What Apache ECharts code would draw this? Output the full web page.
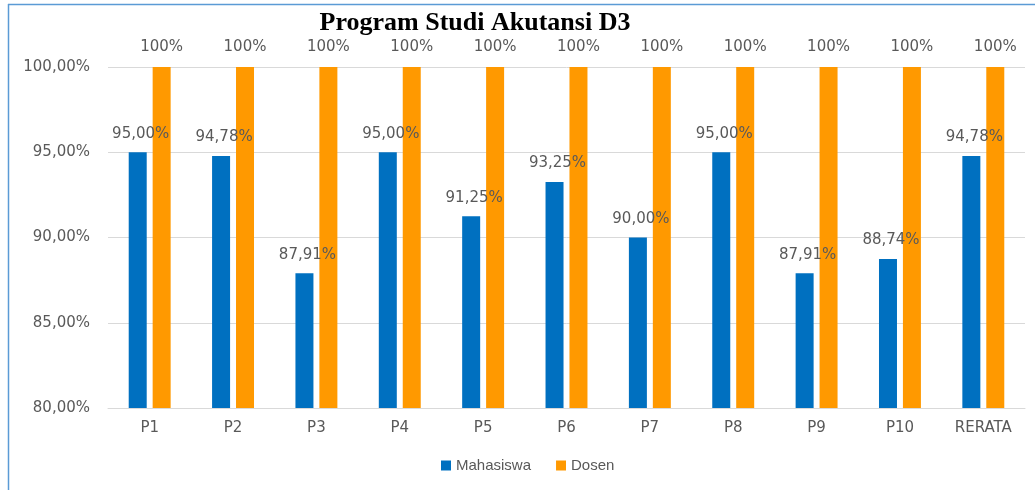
<!DOCTYPE html>
<html><head><meta charset="utf-8">
<script src="https://cdn.jsdelivr.net/npm/echarts@6/dist/echarts.min.js"></script>
<style>html,body{margin:0;padding:0;background:#fff}#c{width:1035px;height:490px}</style>
</head><body><div id="c"></div>
<script>
const categories = ['P1','P2','P3','P4','P5','P6','P7','P8','P9','P10','RERATA'];
const mahasiswa = [95.00, 94.78, 87.91, 95.00, 91.25, 93.25, 90.00, 95.00, 87.91, 88.74, 94.78];
const dosen = [100, 100, 100, 100, 100, 100, 100, 100, 100, 100, 100];
const yTicks = [80, 85, 90, 95, 100];

const fmt2 = v => v.toFixed(2).replace('.', ',') + '%';
const FONT = 'DejaVu Sans';
const chart = echarts.init(document.getElementById('c'));
chart.setOption({
  animation: false,
  backgroundColor: '#fff',
  title: {
    text: 'Program Studi Akutansi D3', left: 470, top: 5, textAlign: 'center',
    textStyle: { fontFamily: 'Liberation Serif', fontWeight: 'bold', fontSize: 26, color: '#000' }
  },
  legend: {
    bottom: 12, left: 436, itemWidth: 10, itemHeight: 10, itemGap: 25,
    icon: 'rect',
    textStyle: { color: '#595959', fontSize: 15, fontFamily: 'Liberation Sans' }
  },
  grid: { left: 108, right: 10, top: 67, bottom: 82 },
  xAxis: {
    type: 'category', data: categories,
    axisLine: { lineStyle: { color: '#d9d9d9' } },
    axisTick: { show: false },
    axisLabel: { color: '#595959', fontSize: 15, margin: 13, fontFamily: FONT }
  },
  yAxis: {
    type: 'value', min: yTicks[0], max: yTicks[yTicks.length - 1], interval: 5,
    axisLine: { show: false }, axisTick: { show: false },
    splitLine: { lineStyle: { color: '#d9d9d9' } },
    axisLabel: { color: '#595959', fontSize: 15, margin: 18, formatter: v => fmt2(v), fontFamily: FONT }
  },
  series: [
    {
      name: 'Mahasiswa', type: 'bar', data: mahasiswa, barWidth: 18, barGap: '33%',
      itemStyle: { color: '#0070c0' },
      label: { show: true, position: 'top', distance: 11, color: '#595959', fontSize: 15, fontFamily: FONT,
        formatter: p => fmt2(p.value), offset: [3, 0] }
    },
    {
      name: 'Dosen', type: 'bar', data: dosen, barWidth: 18,
      itemStyle: { color: '#ff9900' },
      label: { show: true, position: 'top', distance: 12, color: '#595959', fontSize: 15, fontFamily: FONT,
        formatter: p => p.value + '%' }
    }
  ],
  graphic: [
    { type: 'line', shape: { x1: 8.5, y1: 4, x2: 8.5, y2: 490 }, style: { stroke: '#5b9bd5', lineWidth: 1.5 } },
    { type: 'line', shape: { x1: 8, y1: 4.5, x2: 1035, y2: 4.5 }, style: { stroke: '#5b9bd5', lineWidth: 1.5 } }
  ]
});
</script></body></html>
